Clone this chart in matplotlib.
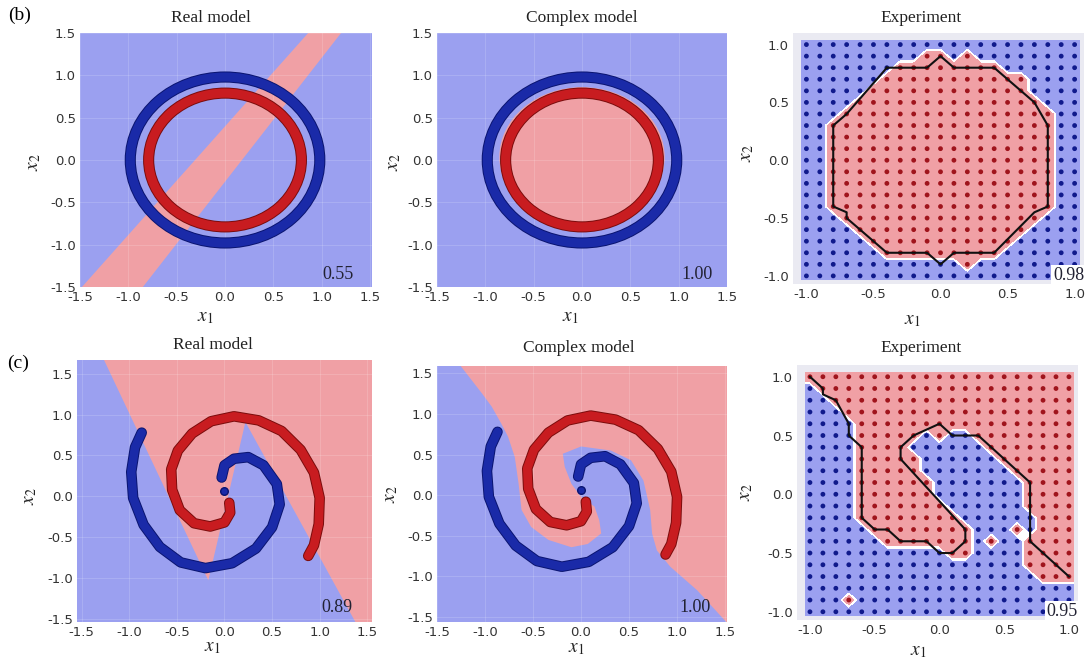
import numpy as np
import matplotlib
matplotlib.use('Agg')
import matplotlib.pyplot as plt
import matplotlib.patheffects as pe
from matplotlib.patches import Circle, Ellipse

plt.rcParams['mathtext.fontset'] = 'stix'

BLUE_BG = '#9ba0f0'
RED_BG = '#f0a0a5'
GRAY_BG = '#eaeaf2'
BLUE_PT = '#1a2aa8'
BLUE_DK = '#0a1470'
RED_PT = '#c81c20'
RED_DK = '#7a0c0c'
SERIF = 'Liberation Serif'

# ---- (b) circles data ----
outer_ring_r = 0.98
inner_ring_r = 0.79
b_real_band_x = [-1.48, -0.85, 1.20, 0.86]
b_real_band_y = [-1.50, -1.50, 1.50, 1.50]
b_cplx_center = (0.0, 0.035)
b_cplx_w, b_cplx_h = 1.71, 1.65

# ---- (c) spiral data ----
red_arm_x = [0.05, 0.06, 0.00, -0.15, -0.32, -0.47, -0.55, -0.56, -0.49, -0.34, -0.14,
             0.10, 0.36, 0.60, 0.80, 0.94, 1.00, 0.99, 0.94, 0.88]
red_arm_y = [-0.08, -0.20, -0.32, -0.37, -0.33, -0.17, 0.08, 0.33, 0.56, 0.77, 0.92,
             0.98, 0.93, 0.80, 0.57, 0.29, -0.02, -0.34, -0.60, -0.73]
blue_arm_x = [-0.03, 0.00, 0.10, 0.25, 0.41, 0.55, 0.58, 0.50, 0.33, 0.08, -0.20,
              -0.46, -0.68, -0.85, -0.96, -0.98, -0.94, -0.87]
blue_arm_y = [0.23, 0.38, 0.46, 0.48, 0.38, 0.15, -0.10, -0.38, -0.64, -0.82, -0.88,
              -0.81, -0.62, -0.35, -0.02, 0.30, 0.60, 0.78]
blue_stray_x = [0.00]
blue_stray_y = [0.06]
c_real_red_x = [-1.27, -0.17, 0.22, 1.38, 1.56, 1.56]
c_real_red_y = [1.68, -1.03, 0.91, -1.55, -1.55, 1.68]
c_cplx_red_x = [-1.26, -1.03, -0.93, -0.83, -0.76, -0.69, -0.65, -0.62, -0.52, -0.34,
                -0.10, 0.07, 0.21, 0.19, 0.14, 0.00, -0.10, -0.17, -0.19, 0.00, 0.31,
                0.52, 0.65, 0.72, 0.74, 0.79, 0.93, 1.21, 1.52, 1.56, 1.56]
c_cplx_red_y = [1.60, 1.25, 1.09, 0.88, 0.72, 0.47, 0.14, -0.18, -0.39, -0.55,
                -0.64, -0.60, -0.47, -0.31, -0.14, -0.02, 0.14, 0.35, 0.51, 0.60, 0.55,
                0.43, 0.18, -0.18, -0.47, -0.68, -0.88, -1.17, -1.57, -1.57, 1.60]

# ---- experiment grids (rows from y=1.0 down to y=-1.0, columns x=-1.0..1.0) ----
b_exp_rows = [
    '000000000000000000000',
    '000000000110100000000',
    '000000011111111000000',
    '000000111111111110000',
    '000001111111111110000',
    '000011111111111111000',
    '000111111111111111100',
    '001111111111111111100',
    '001111111111111111100',
    '001111111111111111100',
    '001111111111111111100',
    '001111111111111111100',
    '001111111111111111100',
    '001111111111111111100',
    '001111111111111111100',
    '000111111111111111000',
    '000011111111111110000',
    '000001111111111100000',
    '000000111111111000000',
    '000000000000100000000',
    '000000000000000000000',
]
c_exp_rows = [
    '111111111111111111111',
    '011111111111111111111',
    '001111111111111111111',
    '000111111111111111111',
    '000011111111111111111',
    '000011111010011111111',
    '000011110000001111111',
    '000011111000000111111',
    '000011111000000011111',
    '000011111100000001111',
    '000011111100000001111',
    '000011111110000001111',
    '000011111111000000111',
    '000001111111100010111',
    '000000111111101001111',
    '000000000001100001111',
    '000000000000000001111',
    '000000000000000000111',
    '000000000000000000000',
    '000100000000000000000',
    '000000000000000000000',
]
b_line_x = [-0.4, -0.1, 0.0, 0.1, 0.4, 0.7, 0.8, 0.8, 0.7, 0.4, 0.1, 0.0, -0.1, -0.4,
            -0.7, -0.7, -0.8, -0.8, -0.7, -0.4]
b_line_y = [0.8, 0.8, 0.9, 0.8, 0.8, 0.5, 0.3, -0.4, -0.45, -0.8, -0.8, -0.9, -0.8, -0.8,
            -0.5, -0.45, -0.4, 0.3, 0.4, 0.8]
c_line_x = [-1.0, -0.9, -0.9, -0.8, -0.7, -0.7, -0.6, -0.6, -0.5, -0.4, -0.3, -0.1, 0.0,
            0.1, 0.2, 0.2, -0.3, -0.3, -0.2, 0.0, 0.1, 0.3, 0.7, 0.7, 1.0]
c_line_y = [1.0, 0.9, 0.85, 0.8, 0.6, 0.5, 0.4, -0.2, -0.3, -0.3, -0.4, -0.4, -0.5, -0.5,
            -0.4, -0.3, 0.3, 0.4, 0.5, 0.6, 0.5, 0.5, 0.1, -0.4, -0.7]

scores = ['0.55', '1.00', '0.98', '0.89', '1.00', '0.95']
titles = ['Real model', 'Complex model', 'Experiment']
model_ticks = [-1.5, -1.0, -0.5, 0.0, 0.5, 1.0, 1.5]
exp_ticks = [-1.0, -0.5, 0.0, 0.5, 1.0]
exp_grid = np.round(np.linspace(-1, 1, 21), 1)

fig = plt.figure(figsize=(10.87, 6.6), dpi=100)


def add_ax(l, t, r, b):
    return fig.add_axes([l / 1087, 1 - b / 660, (r - l) / 1087, (b - t) / 660])


def style(ax, ticks, title, tx, ty, lx, ly, yx, yy):
    ax.set_xticks(ticks)
    ax.set_yticks(ticks)
    ax.set_xticklabels([f'{t:.1f}' for t in ticks])
    ax.set_yticklabels([f'{t:.1f}' for t in ticks])
    ax.tick_params(length=0, pad=3, labelsize=9.5, labelcolor='#333333')
    for s in ax.spines.values():
        s.set_visible(False)
    ax.text(tx, ty, title, transform=ax.transAxes, ha='center', va='center',
            fontsize=12.5, family=SERIF, color='#222222')
    ax.text(lx, ly, '$x_1$', transform=ax.transAxes, ha='center', va='center',
            fontsize=14, color='#222222')
    ax.text(yx, yy, '$x_2$', transform=ax.transAxes, ha='center', va='center',
            fontsize=14, color='#222222', rotation=90)


def faint_grid(ax, ticks):
    for t in ticks:
        ax.axvline(t, color='white', lw=0.8, alpha=0.15, zorder=1)
        ax.axhline(t, color='white', lw=0.8, alpha=0.15, zorder=1)


def band(ax, xs, ys, color, dark):
    ax.plot(xs, ys, color=color, lw=6.2, solid_capstyle='round', solid_joinstyle='round',
            zorder=3, path_effects=[pe.Stroke(linewidth=7.6, foreground=dark), pe.Normal()])


def ring(ax, r, color, dark):
    c = Circle((0, 0), r, fill=False, edgecolor=color, lw=6.6, zorder=3,
               path_effects=[pe.Stroke(linewidth=8.0, foreground=dark), pe.Normal()])
    ax.add_patch(c)


def score(ax, txt, x, y):
    ax.text(x, y, txt, transform=ax.transAxes, ha='center', va='center',
            fontsize=13, family=SERIF, color='#222233', zorder=6)


def experiment(ax, rows, lx, ly):
    z = np.array([[int(ch) for ch in row] for row in rows], dtype=float)[::-1]
    ax.set_facecolor(GRAY_BG)
    # pad one step of edge values so the coloured field reaches just past the outer dots
    zp = np.pad(z, 1, mode='edge')
    gp = np.concatenate([[-1.035], exp_grid, [1.035]])
    ax.contourf(gp, gp, zp, levels=[-0.1, 0.4, 0.6, 1.1],
                colors=[BLUE_BG, 'white', RED_BG], zorder=1)
    gx, gy = np.meshgrid(exp_grid, exp_grid)
    cols = np.where(z.ravel() > 0.5, '#a0141c', '#101a8c')
    ax.scatter(gx.ravel(), gy.ravel(), s=12, c=cols, linewidths=0, zorder=3)
    ax.plot(lx, ly, color='#111111', lw=1.5, zorder=4)
    ax.set_xlim(-1.1, 1.07)
    ax.set_ylim(-1.07, 1.1)


# (b) Real model
ax = add_ax(80, 33, 372, 287)
ax.set_facecolor(BLUE_BG)
ax.fill(b_real_band_x, b_real_band_y, color=RED_BG, lw=0, zorder=0.5)
faint_grid(ax, model_ticks)
ring(ax, outer_ring_r, BLUE_PT, BLUE_DK)
ring(ax, inner_ring_r, RED_PT, RED_DK)
ax.set_xlim(-1.5, 1.52)
ax.set_ylim(-1.5, 1.5)
style(ax, model_ticks, titles[0], 0.45, 1.06, 0.43, -0.118, -0.16, 0.49)
score(ax, scores[0], 0.885, 0.05)

# (b) Complex model
ax = add_ax(437, 33, 727, 287)
ax.set_facecolor(BLUE_BG)
ax.add_patch(Ellipse(b_cplx_center, b_cplx_w, b_cplx_h, color=RED_BG, lw=0, zorder=0.5))
faint_grid(ax, model_ticks)
ring(ax, outer_ring_r, BLUE_PT, BLUE_DK)
ring(ax, inner_ring_r, RED_PT, RED_DK)
ax.set_xlim(-1.5, 1.5)
ax.set_ylim(-1.5, 1.5)
style(ax, model_ticks, titles[1], 0.5, 1.06, 0.46, -0.118, -0.15, 0.49)
score(ax, scores[1], 0.895, 0.05)

# (b) Experiment
ax = add_ax(793, 33, 1084, 284)
experiment(ax, b_exp_rows, b_line_x, b_line_y)
style(ax, exp_ticks, titles[2], 0.44, 1.06, 0.41, -0.143, -0.16, 0.52)
ax.text(1.0, 0.0, scores[2], transform=ax.transAxes, ha='right', va='bottom',
        fontsize=13, family=SERIF, color='#222233', zorder=6,
        bbox=dict(fc='white', ec='none', pad=1.5))

# (c) Real model
ax = add_ax(77, 360, 372, 622)
ax.set_facecolor(BLUE_BG)
ax.fill(c_real_red_x, c_real_red_y, color=RED_BG, lw=0, zorder=0.5)
faint_grid(ax, model_ticks)
band(ax, blue_arm_x, blue_arm_y, BLUE_PT, BLUE_DK)
band(ax, red_arm_x, red_arm_y, RED_PT, RED_DK)
ax.scatter(blue_stray_x, blue_stray_y, s=30, color=BLUE_PT, edgecolors=BLUE_DK, zorder=4)
ax.set_xlim(-1.55, 1.55)
ax.set_ylim(-1.54, 1.67)
style(ax, model_ticks, titles[0], 0.46, 1.057, 0.46, -0.094, -0.16, 0.48)
score(ax, scores[3], 0.88, 0.055)

# (c) Complex model
ax = add_ax(437, 366, 727, 622)
ax.set_facecolor(BLUE_BG)
ax.fill(c_cplx_red_x, c_cplx_red_y, color=RED_BG, lw=0, zorder=0.5)
faint_grid(ax, model_ticks)
band(ax, blue_arm_x, blue_arm_y, BLUE_PT, BLUE_DK)
band(ax, red_arm_x, red_arm_y, RED_PT, RED_DK)
ax.scatter(blue_stray_x, blue_stray_y, s=30, color=BLUE_PT, edgecolors=BLUE_DK, zorder=4)
ax.set_xlim(-1.48, 1.52)
ax.set_ylim(-1.56, 1.59)
style(ax, model_ticks, titles[1], 0.49, 1.069, 0.48, -0.1, -0.16, 0.5)
score(ax, scores[4], 0.89, 0.055)

# (c) Experiment
ax = add_ax(797, 365, 1078, 620)
experiment(ax, c_exp_rows, c_line_x, c_line_y)
style(ax, exp_ticks, titles[2], 0.44, 1.065, 0.43, -0.118, -0.185, 0.5)
ax.text(1.0, 0.0, scores[5], transform=ax.transAxes, ha='right', va='bottom',
        fontsize=13, family=SERIF, color='#222233', zorder=6,
        bbox=dict(fc='white', ec='none', pad=1.5))

fig.text(20 / 1087, 1 - 15 / 660, '(b)', ha='center', va='center', fontsize=14, family=SERIF)
fig.text(18 / 1087, 1 - 363 / 660, '(c)', ha='center', va='center', fontsize=14, family=SERIF)

fig.savefig('out.png', dpi=100)
